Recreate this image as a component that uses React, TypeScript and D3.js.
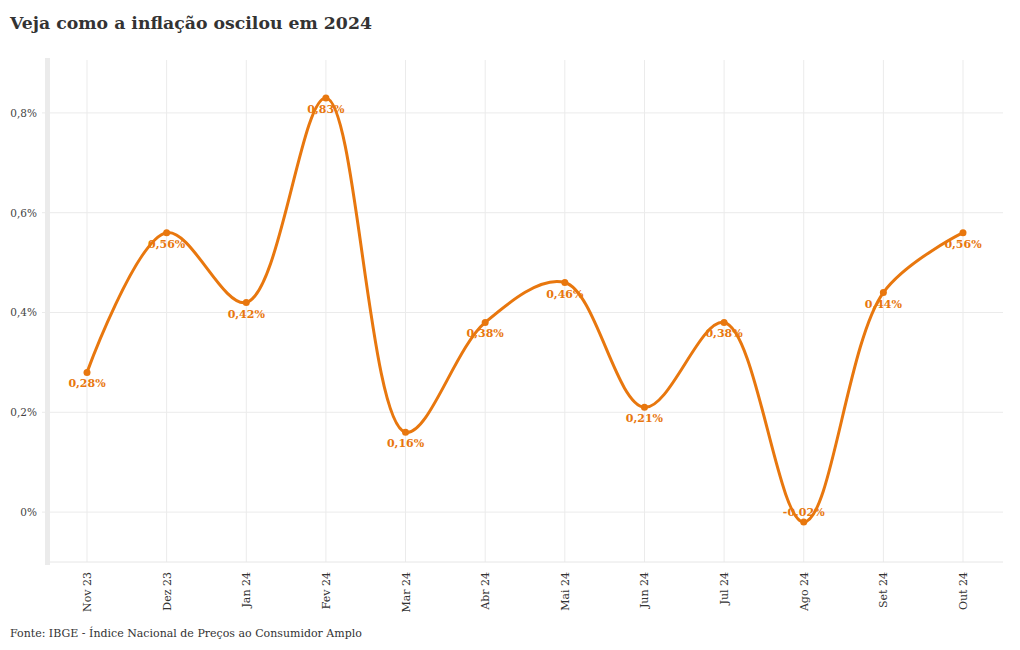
import React from "react";
import * as d3 from "d3";

const categories = ["Nov 23", "Dez 23", "Jan 24", "Fev 24", "Mar 24", "Abr 24", "Mai 24", "Jun 24", "Jul 24", "Ago 24", "Set 24", "Out 24"];
const values = [0.28, 0.56, 0.42, 0.83, 0.16, 0.38, 0.46, 0.21, 0.38, -0.02, 0.44, 0.56];
const yTicks = [0, 0.2, 0.4, 0.6, 0.8];

const W = 1020, H = 650;
const left = 50, right = 1003, top = 60, bottom = 562;
const font = "'DejaVu Serif', serif";
const orange = "#e8770e";

const fmt = (v: number) => (v === 0 ? "0%" : String(v).replace(".", ",") + "%");

export default function App() {
  const x = d3.scalePoint<string>().domain(categories).range([87, 963]);
  const y = d3.scaleLinear().domain([-0.102, 0.906]).range([bottom + 1, top]);
  const line = d3
    .line<number>()
    .x((_, i) => x(categories[i])!)
    .y((d) => y(d))
    .curve(d3.curveCatmullRom.alpha(0.5));
  return (
    <svg width={W} height={H} style={{ position: "absolute", left: 0, top: 0, background: "#fff" }}>
      <text x={10} y={29} fontFamily={font} fontWeight="bold" fontSize={17.3} fill="#333">
        Veja como a inflação oscilou em 2024
      </text>
      {yTicks.map((t) => (
        <line key={t} x1={left} x2={right} y1={y(t)} y2={y(t)} stroke="#ebebeb" strokeWidth={1} />
      ))}
      {categories.map((c) => (
        <line key={c} x1={x(c)} x2={x(c)} y1={top} y2={bottom} stroke="#ebebeb" strokeWidth={1} />
      ))}
      <line x1={left} x2={right} y1={bottom} y2={bottom} stroke="#e6e6e6" strokeWidth={1} />
      <rect x={45} y={top - 2} width={5} height={bottom - top + 5} fill="#ebebeb" />
      {yTicks.map((t) => (
        <g key={"yl" + t}>
          <line x1={42} x2={45} y1={y(t)} y2={y(t)} stroke="#ebebeb" />
          <text x={37} y={y(t) + 4} textAnchor="end" fontFamily={font} fontSize={10.5} fill="#444">
            {fmt(t)}
          </text>
        </g>
      ))}
      {categories.map((c) => (
        <text
          key={"xl" + c}
          transform={`translate(${x(c)! + 4},${572}) rotate(-90)`}
          textAnchor="end"
          fontFamily={font}
          fontSize={11}
          fill="#333"
        >
          {c}
        </text>
      ))}
      <path d={line(values) || ""} fill="none" stroke={orange} strokeWidth={3} />
      {values.map((v, i) => (
        <circle key={"p" + i} cx={x(categories[i])} cy={y(v)} r={3.5} fill={orange} />
      ))}
      {values.map((v, i) => (
        <text
          key={"l" + i}
          x={x(categories[i])}
          y={v < 0 ? y(v) - 6 : y(v) + 15}
          textAnchor="middle"
          fontFamily={font}
          fontWeight="bold"
          fontSize={11}
          fill={orange}
        >
          {fmt(v)}
        </text>
      ))}
      <text x={10} y={637} fontFamily={font} fontSize={11} fill="#333">
        Fonte: IBGE - Índice Nacional de Preços ao Consumidor Amplo
      </text>
    </svg>
  );
}
